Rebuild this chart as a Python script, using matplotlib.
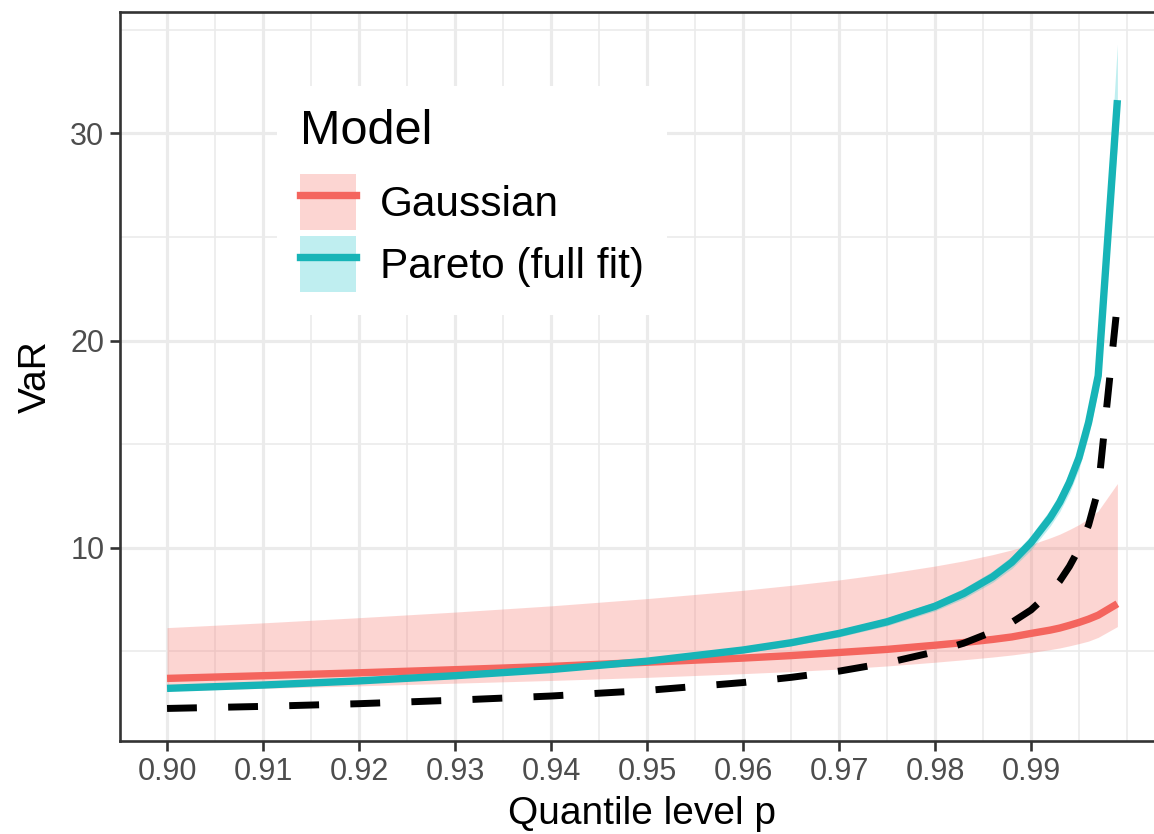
import matplotlib
matplotlib.use("Agg")
import matplotlib.pyplot as plt
from matplotlib.patches import Patch
from matplotlib.lines import Line2D

plt.rcParams['font.family'] = ['Liberation Sans', 'DejaVu Sans']

# quantile levels
p = [0.900, 0.910, 0.920, 0.930, 0.940, 0.950, 0.960, 0.965, 0.970, 0.975, 0.980,
     0.983, 0.986, 0.988, 0.990, 0.992, 0.993, 0.994, 0.995, 0.996, 0.997, 0.999]

# Gaussian model VaR + band
gauss = [3.70, 3.83, 3.97, 4.12, 4.28, 4.48, 4.68, 4.80, 4.95, 5.10, 5.30,
         5.43, 5.58, 5.70, 5.87, 6.03, 6.13, 6.26, 6.40, 6.56, 6.75, 7.30]
gauss_lo = [3.10, 3.22, 3.34, 3.47, 3.60, 3.75, 3.93, 4.03, 4.15, 4.30, 4.48,
            4.60, 4.73, 4.83, 4.95, 5.09, 5.17, 5.27, 5.38, 5.50, 5.68, 6.20]
gauss_hi = [6.15, 6.38, 6.63, 6.90, 7.20, 7.55, 7.95, 8.19, 8.45, 8.76, 9.12,
            9.37, 9.67, 9.90, 10.16, 10.48, 10.66, 10.88, 11.12, 11.41, 11.78, 13.10]

# Pareto (full fit) VaR + band
pareto = [3.22, 3.38, 3.58, 3.83, 4.13, 4.53, 5.07, 5.42, 5.87, 6.43, 7.18,
          7.80, 8.60, 9.30, 10.25, 11.45, 12.20, 13.15, 14.35, 16.05, 18.30, 31.60]
pareto_lo = [3.12, 3.28, 3.48, 3.72, 4.02, 4.40, 4.93, 5.27, 5.70, 6.24, 6.96,
             7.55, 8.33, 9.00, 9.90, 11.05, 11.75, 12.65, 13.80, 15.40, 17.60, 29.50]
pareto_hi = [3.32, 3.48, 3.68, 3.94, 4.25, 4.66, 5.21, 5.58, 6.04, 6.62, 7.40,
             8.05, 8.88, 9.60, 10.60, 11.85, 12.65, 13.65, 14.90, 16.70, 19.00, 34.30]

# true VaR (dashed)
true_var = [2.25, 2.35, 2.48, 2.65, 2.85, 3.12, 3.50, 3.75, 4.05, 4.45, 4.98,
            5.40, 5.95, 6.40, 7.00, 7.85, 8.40, 9.10, 9.95, 11.10, 12.80, 21.80]

x_ticks = [0.90, 0.91, 0.92, 0.93, 0.94, 0.95, 0.96, 0.97, 0.98, 0.99]
x_labels = ["0.90", "0.91", "0.92", "0.93", "0.94", "0.95", "0.96", "0.97", "0.98", "0.99"]
x_minor = [0.905, 0.915, 0.925, 0.935, 0.945, 0.955, 0.965, 0.975, 0.985, 0.995, 1.0]
y_ticks = [10, 20, 30]
y_minor = [5, 15, 25, 35]

RED = '#F4655E'
TEAL = '#17B4B7'
DARK = '#333333'

fig = plt.figure(figsize=(11.54, 8.34), dpi=100)
ax = fig.add_axes([120 / 1154, 93 / 834, 1045 / 1154, 729 / 834])

ax.fill_between(p, gauss_lo, gauss_hi, color='#F8766D', alpha=0.3, lw=0, zorder=2)
ax.fill_between(p, pareto_lo, pareto_hi, color='#00BFC4', alpha=0.25, lw=0, zorder=2)
ax.plot(p, gauss, color=RED, lw=5.3, zorder=3, solid_capstyle='butt')
ax.plot(p, pareto, color=TEAL, lw=5.3, zorder=3, solid_capstyle='butt')
ax.plot(p, true_var, color='black', lw=5.0, zorder=4, dashes=(4.3, 4.5),
        dash_capstyle='butt')

ax.set_xlim(0.89510, 1.00396)
ax.set_ylim(0.68, 35.85)

ax.set_xticks(x_ticks)
ax.set_xticklabels(x_labels)
ax.set_xticks(x_minor, minor=True)
ax.set_yticks(y_ticks)
ax.set_yticks(y_minor, minor=True)

ax.grid(True, which='major', color='#EBEBEB', lw=2.3, zorder=0)
ax.grid(True, which='minor', color='#EBEBEB', lw=1.2, zorder=0)
ax.set_axisbelow(True)

ax.tick_params(which='major', length=7.2, width=1.9, color=DARK,
               labelsize=22, labelcolor='#4D4D4D', pad=4)
ax.tick_params(which='minor', length=0)
for s in ax.spines.values():
    s.set_color(DARK)
    s.set_linewidth(1.9)

ax.set_xlabel('Quantile level p', fontsize=28, labelpad=7)
ax.set_ylabel('VaR', fontsize=28, labelpad=12)

handles = [
    (Patch(facecolor='#F8766D', alpha=0.3, edgecolor='none'), Line2D([], [], color=RED, lw=5.3)),
    (Patch(facecolor='#00BFC4', alpha=0.25, edgecolor='none'), Line2D([], [], color=TEAL, lw=5.3)),
]
leg = ax.legend(handles, ['Gaussian', 'Pareto (full fit)'], title='Model',
                loc='upper left', bbox_to_anchor=(0.1502, 0.8985), borderaxespad=0,
                fontsize=30.5, title_fontsize=35, alignment='left',
                handlelength=1.32, handleheight=1.65, handletextpad=0.56,
                labelspacing=0.14, borderpad=0.55, frameon=True, fancybox=False,
                facecolor='white', edgecolor='none', framealpha=1)
leg._legend_box.sep = 14.4
leg.set_zorder(6)

fig.savefig('out.png', dpi=100)
